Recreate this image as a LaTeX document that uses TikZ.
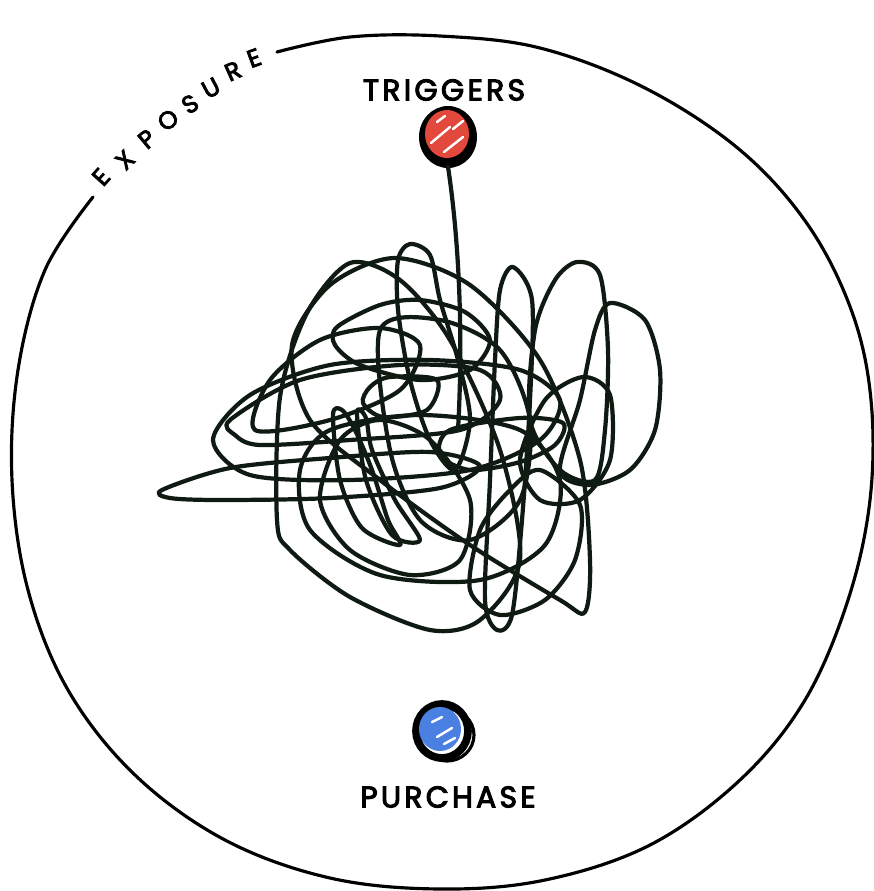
\documentclass[tikz,border=0pt]{standalone}
\usepackage{fontspec}
\usetikzlibrary{calc}
\newfontfamily\handfont[LetterSpace=11, FakeBold=3.5]{Poppins}
\newfontfamily\arcfont[FakeBold=3.5]{Poppins}
\definecolor{inkColor}{HTML}{0F1A13}
\definecolor{triggerRed}{HTML}{E2483B}
\definecolor{purchaseBlue}{HTML}{4A80E2}

\tikzset{
    scribble/.style={inkColor, line width=1.2pt, line cap=round, line join=round},
    rim/.style={black, line width=0.9pt, line cap=round},
    handtext/.style={font=\handfont\fontsize{8.5}{8.5}\selectfont, inner sep=0pt},
    arcletter/.style={font=\arcfont\fontsize{7}{7}\selectfont, inner sep=0pt},
    shine/.style={white, line width=0.7pt, line cap=round}
}

\begin{document}
\begin{tikzpicture}[x=0.1mm, y=-0.1mm]
    \useasboundingbox (0,0) rectangle (874,891);

    % outer ring, open at the top left for the word
    \draw[rim] plot[smooth, tension=0.6] coordinates {
        (277,52) (350,37) (440,36) (540,48) (645,88) (740,150) (808,225)
        (852,312) (871,400) (870,500) (848,600) (805,700) (740,780)
        (650,845) (545,880) (440,889) (330,878) (225,840) (135,775)
        (68,690) (28,590) (12,480) (18,370) (45,270) (93,197)};

    \foreach \ch/\px/\py/\ang in {E/101/177/48, X/125/160/44, P/147/139/40,
            O/168/120/36, S/190/104/32, U/211/88/28, R/233/71/24, E/254/58/20}
        \node[arcletter, rotate=\ang] at (\px,\py) {\ch};

    % labels
    \node[handtext] (triggersText) at (444,90) {TRIGGERS};
    \node[handtext] (purchaseText) at (448,797) {PURCHASE};

    % red dot
    \node[circle, minimum size=5.8mm, inner sep=0pt] (trigger) at (448,137) {};
    \fill[black] (448,137) ellipse [x radius=29, y radius=31];
    \fill[triggerRed] (447,134) ellipse [x radius=22, y radius=24];
    \draw[shine] (437,122) -- (445,116);
    \draw[shine] (431,143) -- (450,127);
    \draw[shine] (444,152) -- (463,137);
    \draw[shine] (453,129) -- (463,121);

    % blue dot
    \node[circle, minimum size=5.8mm, inner sep=0pt] (purchase) at (444,733) {};
    \draw[black, line width=2.2pt] (442,731) ellipse [x radius=26, y radius=27];
    \draw[black, line width=0.9pt] (447,735) ellipse [x radius=27, y radius=26];
    \fill[purchaseBlue] (440,729) ellipse [x radius=21, y radius=22];
    \draw[shine] (432,722) -- (442,717);
    \draw[shine] (437,737) -- (452,728);
    \draw[shine] (444,744) -- (455,738);

    % the tangle
    \coordinate (tangleIn) at (458,430);
    \draw[scribble] (trigger.south) .. controls (462,260) and (462,360) .. (tangleIn);

    \draw[scribble] plot[smooth cycle] coordinates {(162,490) (230,468) (330,458) (430,452) (480,466) (440,488) (330,498) (220,500) (170,498)};
    \draw[scribble] plot[smooth cycle] coordinates {(292,345) (330,285) (395,258) (470,285) (540,360) (580,460) (590,560) (585,612) (560,600) (470,545) (380,480) (310,420)};
    \draw[scribble] plot[smooth cycle] coordinates {(410,244) (430,255) (440,300) (458,360) (470,420) (455,470) (430,440) (410,380) (398,310) (398,260)};
    \draw[scribble] plot[smooth cycle] coordinates {(350,263) (307,313) (280,397) (277,520) (290,550) (350,597) (430,630) (480,620) (520,560) (500,450) (450,340) (400,280)};
    \draw[scribble] plot[smooth cycle] coordinates {(513,267) (532,300) (530,400) (522,520) (512,615) (497,630) (485,600) (490,480) (495,360) (500,290)};
    \draw[scribble] plot[smooth cycle] coordinates {(577,262) (600,275) (608,350) (605,430) (595,480) (560,470) (530,420) (535,330) (555,280)};
    \draw[scribble] plot[smooth cycle] coordinates {(610,303) (645,320) (660,370) (655,430) (630,470) (590,485) (560,470) (580,400) (595,330)};
    \draw[scribble] plot[smooth cycle] coordinates {(583,377) (610,395) (610,460) (580,500) (540,500) (520,460) (545,400)};
    \draw[scribble] plot[smooth cycle] coordinates {(540,470) (580,505) (575,560) (545,600) (500,615) (470,590) (480,530) (510,490)};
    \draw[scribble] plot[smooth cycle] coordinates {(450,430) (520,418) (563,423) (555,445) (520,462) (470,470) (440,455)};
    \draw[scribble] plot[smooth cycle] coordinates {(370,387) (390,377) (437,380) (427,410) (383,417) (363,403)};
    \draw[scribble] plot[smooth cycle] coordinates {(333,415) (342,410) (355,430) (372,470) (388,520) (400,545) (362,528) (340,480)};
    \draw[scribble] plot[smooth cycle] coordinates {(357,413) (366,418) (372,450) (395,500) (420,540) (392,535) (366,480)};
    \draw[scribble] plot[smooth cycle] coordinates {(340,440) (380,420) (430,440) (470,500) (460,560) (410,575) (350,550) (320,500)};
    \draw[scribble] plot[smooth cycle] coordinates {(230,420) (300,380) (400,365) (480,370) (500,400) (460,430) (350,440) (260,445) (235,435)};
    \draw[scribble] plot[smooth cycle] coordinates {(213,440) (250,395) (330,365) (430,360) (520,370) (560,400) (540,440) (470,470) (350,480) (250,475)};
    \draw[scribble] plot[smooth cycle] coordinates {(337,327) (380,305) (420,300) (465,312) (490,340) (470,370) (420,380) (360,365) (335,345)};
    \draw[scribble] plot[smooth cycle] coordinates {(300,470) (330,430) (420,415) (520,430) (560,480) (545,545) (480,580) (380,575) (310,530)};
    \draw[scribble] plot[smooth cycle] coordinates {(380,330) (440,320) (500,350) (530,420) (520,500) (470,540) (420,520) (390,450)};
    \draw[scribble] plot[smooth cycle] coordinates {(255,430) (270,380) (320,340) (380,328) (420,345) (400,390) (330,420)};
\end{tikzpicture}
\end{document}
